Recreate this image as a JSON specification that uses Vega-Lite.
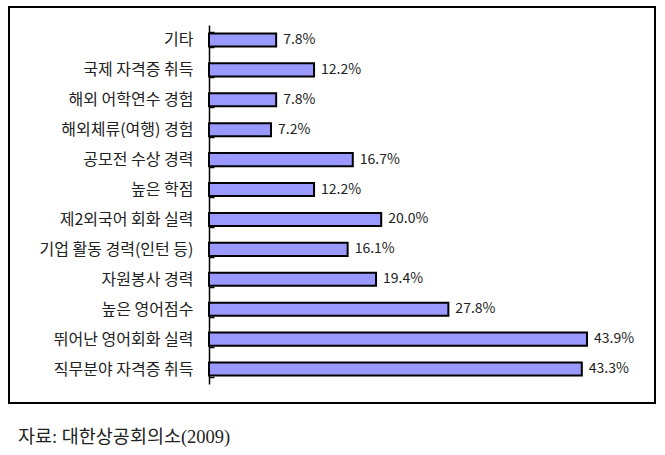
{
  "$schema": "https://vega.github.io/schema/vega-lite/v6.json",
  "width": 646,
  "height": 396,
  "autosize": {"type": "none"},
  "padding": {"left": 9, "top": 7, "right": 10, "bottom": 52},
  "background": "white",
  "config": {
    "view": {"stroke": "black", "strokeWidth": 2},
    "font": "Noto Sans CJK KR"
  },
  "title": {
    "text": "자료: 대한상공회의소(2009)",
    "orient": "bottom",
    "anchor": "start",
    "frame": "group",
    "font": "Liberation Serif, Noto Sans CJK KR",
    "fontSize": 18.5,
    "fontWeight": "normal",
    "color": "#222",
    "dx": 9,
    "offset": 25
  },
  "data": {
    "values": [
      {"item": "기타", "value": 7.8, "label": "7.8%"},
      {"item": "국제 자격증 취득", "value": 12.2, "label": "12.2%"},
      {"item": "해외 어학연수 경험", "value": 7.8, "label": "7.8%"},
      {"item": "해외체류(여행) 경험", "value": 7.2, "label": "7.2%"},
      {"item": "공모전 수상 경력", "value": 16.7, "label": "16.7%"},
      {"item": "높은 학점", "value": 12.2, "label": "12.2%"},
      {"item": "제2외국어 회화 실력", "value": 20.0, "label": "20.0%"},
      {"item": "기업 활동 경력(인턴 등)", "value": 16.1, "label": "16.1%"},
      {"item": "자원봉사 경력", "value": 19.4, "label": "19.4%"},
      {"item": "높은 영어점수", "value": 27.8, "label": "27.8%"},
      {"item": "뛰어난 영어회화 실력", "value": 43.9, "label": "43.9%"},
      {"item": "직무분야 자격증 취득", "value": 43.3, "label": "43.3%"}
    ]
  },
  "encoding": {
    "y": {
      "field": "item",
      "type": "nominal",
      "sort": null,
      "scale": {"range": [18, 377], "paddingInner": 0.5, "paddingOuter": 0.25},
      "axis": {
        "title": null,
        "orient": "left",
        "offset": -200,
        "domain": true,
        "domainColor": "black",
        "domainWidth": 1.5,
        "ticks": true,
        "tickColor": "black",
        "tickWidth": 1.5,
        "tickSize": -5,
        "tickBand": "extent",
        "labelPadding": 21,
        "labelFont": "Noto Sans CJK KR",
        "labelFontSize": 16,
        "labelColor": "#222",
        "grid": false
      }
    },
    "x": {
      "field": "value",
      "type": "quantitative",
      "scale": {"domain": [-23.23, 51.8], "nice": false, "zero": false},
      "axis": null
    }
  },
  "layer": [
    {
      "mark": {"type": "bar", "fill": "#9999FF", "stroke": "black", "strokeWidth": 2, "height": {"band": 0.88}}
    },
    {
      "mark": {"type": "text", "align": "left", "baseline": "middle", "dx": 7, "fontSize": 14, "font": "Noto Sans CJK KR", "color": "#222"},
      "encoding": {"text": {"field": "label"}}
    }
  ]
}
